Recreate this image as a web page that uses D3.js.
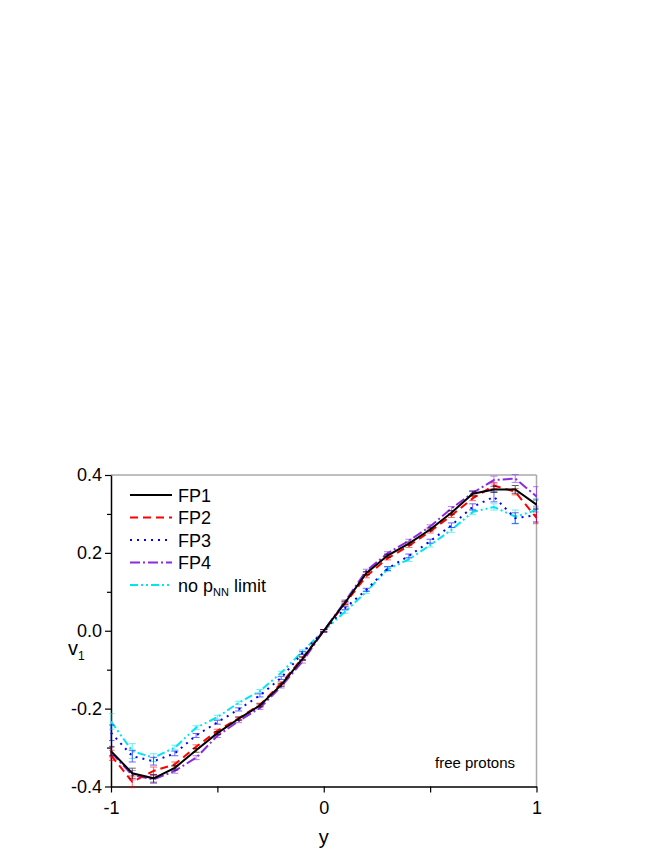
<!DOCTYPE html>
<html>
<head>
<meta charset="utf-8">
<script src="https://cdn.jsdelivr.net/npm/d3@7"></script>
<style>
  body { margin: 0; background: #fff; }
  text { font-family: Arial, "Liberation Sans", sans-serif; fill: #000; }
</style>
</head>
<body>
<svg id="chart" width="664" height="860"></svg>
<script>
// rapidity bins
var rapidity = [-1, -0.9, -0.8, -0.7, -0.6, -0.5, -0.4, -0.3, -0.2, -0.1, 0,
  0.1, 0.2, 0.3, 0.4, 0.5, 0.6, 0.7, 0.8, 0.9, 1];

var fp1 = [-0.309, -0.366, -0.379, -0.352, -0.307, -0.263, -0.226, -0.192, -0.139, -0.072, 0.0,
  0.072, 0.148, 0.193, 0.224, 0.260, 0.303, 0.352, 0.363, 0.363, 0.324];
var fp1Err = [0.012, 0.013, 0.010, 0.006, 0.005, 0.004, 0.004, 0.004, 0.004, 0.004, 0.003,
  0.004, 0.004, 0.004, 0.004, 0.004, 0.005, 0.006, 0.008, 0.010, 0.012];

var fp2 = [-0.320, -0.388, -0.360, -0.343, -0.298, -0.257, -0.225, -0.190, -0.135, -0.070, 0.0,
  0.070, 0.140, 0.186, 0.218, 0.255, 0.296, 0.340, 0.373, 0.357, 0.290];
var fp2Err = [0.013, 0.015, 0.010, 0.006, 0.005, 0.004, 0.004, 0.004, 0.004, 0.004, 0.003,
  0.004, 0.004, 0.004, 0.004, 0.004, 0.005, 0.006, 0.008, 0.008, 0.015];

var fp3 = [-0.262, -0.322, -0.335, -0.315, -0.269, -0.235, -0.202, -0.166, -0.121, -0.057, 0.0,
  0.058, 0.105, 0.160, 0.192, 0.230, 0.271, 0.318, 0.344, 0.289, 0.297];
var fp3Err = [0.020, 0.015, 0.010, 0.006, 0.005, 0.005, 0.004, 0.004, 0.004, 0.004, 0.003,
  0.004, 0.004, 0.005, 0.005, 0.005, 0.006, 0.008, 0.013, 0.014, 0.018];

var fp4 = [-0.312, -0.371, -0.382, -0.360, -0.326, -0.270, -0.232, -0.198, -0.143, -0.079, 0.0,
  0.075, 0.154, 0.199, 0.231, 0.268, 0.314, 0.354, 0.387, 0.391, 0.345];
var fp4Err = [0.012, 0.012, 0.010, 0.006, 0.005, 0.004, 0.004, 0.004, 0.004, 0.004, 0.003,
  0.004, 0.004, 0.004, 0.004, 0.004, 0.005, 0.006, 0.010, 0.010, 0.025];

var noLimit = [-0.233, -0.309, -0.326, -0.300, -0.249, -0.222, -0.185, -0.155, -0.108, -0.053, 0.0,
  0.049, 0.100, 0.158, 0.183, 0.220, 0.259, 0.305, 0.318, 0.293, 0.310];
var noLimitErr = [0.020, 0.019, 0.010, 0.006, 0.005, 0.005, 0.004, 0.004, 0.004, 0.004, 0.003,
  0.004, 0.004, 0.005, 0.005, 0.005, 0.006, 0.007, 0.008, 0.017, 0.030];

var seriesNames = ["FP1", "FP2", "FP3", "FP4", "no pNN limit"];
var xTicks = [-1, -0.5, 0, 0.5, 1];
var yTicks = [-0.4, -0.2, 0.0, 0.2, 0.4];

var series = [
  { name: seriesNames[0], v: fp1, err: fp1Err, color: "#000000", dash: null },
  { name: seriesNames[1], v: fp2, err: fp2Err, color: "#ff0000", dash: "8,5" },
  { name: seriesNames[2], v: fp3, err: fp3Err, color: "#0000ff", dash: "2,5" },
  { name: seriesNames[3], v: fp4, err: fp4Err, color: "#8a2be2", dash: "10,3,2,3" },
  { name: seriesNames[4], v: noLimit, err: noLimitErr, color: "#00e5ee", dash: "8,3,2,3,2,3" }
];

var svg = d3.select("#chart");
var mLeft = 111, mRight = 536.5, mTop = 475, mBottom = 786.5;

var x = d3.scaleLinear().domain([-1, 1]).range([mLeft, mRight]);
var y = d3.scaleLinear().domain([-0.4, 0.4]).range([mBottom, mTop]);

// frame (top/right in gray)
svg.append("line").attr("x1", mLeft).attr("x2", mRight).attr("y1", mTop).attr("y2", mTop)
  .attr("stroke", "#aaa").attr("stroke-width", 1.5);
svg.append("line").attr("x1", mRight).attr("x2", mRight).attr("y1", mTop).attr("y2", mBottom)
  .attr("stroke", "#aaa").attr("stroke-width", 1.5);

var hy = s => s.replace("\u2212", "-");
var fmt = d => hy(d3.format(".1f")(d));

// x axis
var gx = svg.append("g").attr("transform", `translate(0,${mBottom})`)
  .call(d3.axisBottom(x).tickValues(xTicks).tickSize(6).tickSizeOuter(0)
    .tickFormat(d => (d === -1 || d === 0 || d === 1) ? hy(d3.format("d")(d)) : ""));
gx.select(".domain").attr("stroke-width", 1.5);
gx.selectAll(".tick line").attr("stroke-width", 1.2);
gx.selectAll(".tick text").attr("font-size", 18).attr("dy", "1.0em")
  .style("font-family", "Arial, 'Liberation Sans', sans-serif");

// y axis minor ticks
svg.append("g").attr("transform", `translate(${mLeft},0)`)
  .call(d3.axisLeft(y).tickValues(d3.range(-3, 4, 2).map(d => d / 10)).tickSize(4).tickFormat(""))
  .call(g => g.select(".domain").remove())
  .selectAll(".tick line").attr("stroke-width", 1.2);

// y axis
var gy = svg.append("g").attr("transform", `translate(${mLeft},0)`)
  .call(d3.axisLeft(y).tickValues(yTicks).tickSize(6).tickSizeOuter(0).tickFormat(fmt));
gy.select(".domain").attr("stroke-width", 1.5);
gy.selectAll(".tick line").attr("stroke-width", 1.2);
gy.selectAll(".tick text").attr("font-size", 18).attr("x", -9)
  .style("font-family", "Arial, 'Liberation Sans', sans-serif");

// axis titles
svg.append("text").attr("x", x(0)).attr("y", 844).attr("text-anchor", "middle")
  .attr("font-size", 20).text("y");
var vt = svg.append("text").attr("x", 68).attr("y", 655).attr("font-size", 20);
vt.append("tspan").text("v");
vt.append("tspan").attr("font-size", 12).attr("dy", 5).text("1");

// clip
svg.append("clipPath").attr("id", "plot-clip").append("rect")
  .attr("x", mLeft - 2).attr("y", mTop - 10).attr("width", mRight - mLeft + 4).attr("height", mBottom - mTop + 20);

var line = d3.line().x((d, i) => x(rapidity[i])).y(d => y(d));

var plot = svg.append("g").attr("clip-path", "url(#plot-clip)");

series.slice().reverse().forEach(function (s) {
  var g = plot.append("g");
  // error bars
  var eb = g.selectAll(".eb").data(s.v).enter().append("g").attr("opacity", 0.6);
  eb.append("line")
    .attr("x1", (d, i) => x(rapidity[i])).attr("x2", (d, i) => x(rapidity[i]))
    .attr("y1", (d, i) => y(d - s.err[i])).attr("y2", (d, i) => y(d + s.err[i]))
    .attr("stroke", s.color).attr("stroke-width", 1);
  [-1, 1].forEach(function (sign) {
    eb.append("line")
      .attr("x1", (d, i) => x(rapidity[i]) - 3.5).attr("x2", (d, i) => x(rapidity[i]) + 3.5)
      .attr("y1", (d, i) => y(d + sign * s.err[i])).attr("y2", (d, i) => y(d + sign * s.err[i]))
      .attr("stroke", s.color).attr("stroke-width", 1);
  });
  g.append("path").datum(s.v)
    .attr("d", line)
    .attr("fill", "none")
    .attr("stroke", s.color)
    .attr("stroke-width", 2)
    .attr("stroke-dasharray", s.dash);
});

// legend
var legend = svg.append("g");
var rows = legend.selectAll("g").data(series).enter().append("g")
  .attr("transform", (d, i) => `translate(0,${495 + i * 22.5})`);
rows.append("line").attr("x1", 130).attr("x2", 172).attr("y1", 0).attr("y2", 0)
  .attr("stroke", d => d.color).attr("stroke-width", 2).attr("stroke-dasharray", d => d.dash);
rows.each(function (d, i) {
  var t = d3.select(this).append("text").attr("x", 178).attr("y", 6.5).attr("font-size", 18);
  if (i === 4) {
    t.append("tspan").text("no p");
    t.append("tspan").attr("font-size", 11).attr("dy", 4).text("NN");
    t.append("tspan").attr("dy", -4).text(" limit");
  } else {
    t.text(d.name);
  }
});

svg.append("text").attr("x", 435).attr("y", 768).attr("font-size", 15).text("free protons");
</script>
</body>
</html>
